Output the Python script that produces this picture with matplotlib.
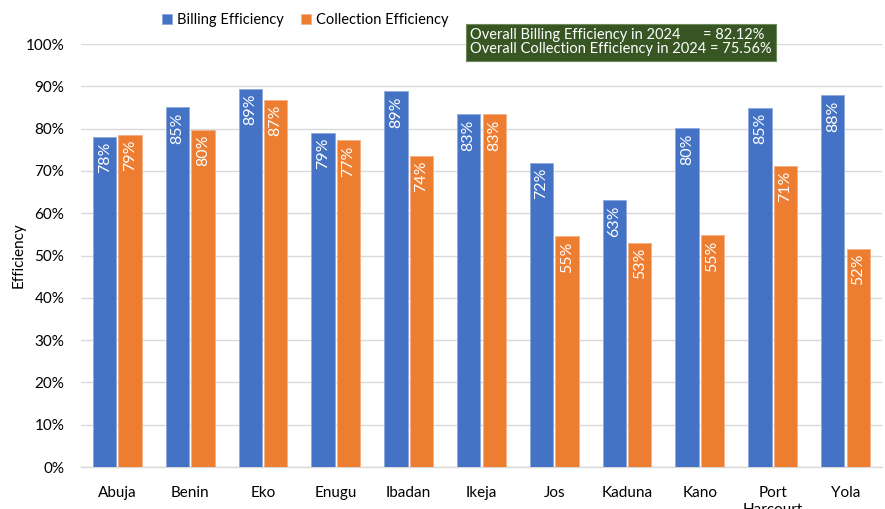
import matplotlib
matplotlib.use("Agg")
import matplotlib.pyplot as plt
import numpy as np

plt.rcParams['font.family'] = ['Lato', 'DejaVu Sans']

discos = ["Abuja", "Benin", "Eko", "Enugu", "Ibadan", "Ikeja", "Jos",
          "Kaduna", "Kano", "Port\nHarcourt", "Yola"]
billing = [78.1, 85.1, 89.4, 79.0, 88.9, 83.4, 71.9, 63.1, 80.1, 84.9, 87.9]
collection = [78.6, 79.7, 86.8, 77.2, 73.6, 83.4, 54.6, 53.0, 54.8, 71.2, 51.6]
overall_billing = 82.12
overall_collection = 75.56

blue = "#4472C4"
orange = "#ED7D31"

fig = plt.figure(figsize=(8.85, 5.09), dpi=100)
ax = fig.add_axes([0.0915, 0.0825, 0.905, 0.831])

x = np.arange(len(discos))
w = 0.32
gap = 0.015
b1 = ax.bar(x - w / 2 - gap, billing, w, color=blue, edgecolor="#8faadc",
            linewidth=0.6, label="Billing Efficiency", zorder=3)
b2 = ax.bar(x + w / 2 + gap, collection, w, color=orange, edgecolor="#f4b183",
            linewidth=0.6, label="Collection Efficiency", zorder=3)

for bars, vals in ((b1, billing), (b2, collection)):
    for rect, v in zip(bars, vals):
        ax.text(rect.get_x() + rect.get_width() / 2, v - 1.2, f"{v:.0f}%",
                rotation=90, ha="center", va="top", color="white",
                fontsize=11.5, zorder=4)

ax.set_xlim(-0.5, len(discos) - 0.5)
ax.set_ylim(0, 100)
ax.set_yticks(np.arange(0, 101, 10))
ax.set_yticklabels([f"{t}%" for t in range(0, 101, 10)], fontsize=11)
ax.set_xticks(x)
ax.set_xticklabels(discos, fontsize=11, va="top")
ax.tick_params(axis="both", length=0)
ax.tick_params(axis="x", pad=14)
ax.tick_params(axis="y", pad=12)
ax.grid(axis="y", color="#d9d9d9", linewidth=1, zorder=0)
for s in ("top", "right", "left"):
    ax.spines[s].set_visible(False)
ax.spines["bottom"].set_color("#d9d9d9")
ax.spines["bottom"].set_linewidth(1)
ax.set_ylabel("Efficiency", fontsize=11, labelpad=0)

ax.legend(loc="upper center", bbox_to_anchor=(0.28, 1.105), ncol=2,
          frameon=False, fontsize=10.5, handlelength=0.7, handleheight=0.7,
          handletextpad=0.3, columnspacing=1.2)

fig.text(0.531, 0.917,
         f"Overall Billing Efficiency in 2024      = {overall_billing:.2f}%\n"
         f"Overall Collection Efficiency in 2024 = {overall_collection:.2f}%",
         color="white", fontsize=10.5, va="center", ha="left", linespacing=1.0,
         bbox=dict(boxstyle="square,pad=0.3", facecolor="#375623",
                   edgecolor="#6f8a5a", linewidth=0.8))

fig.savefig("out.png", dpi=100)
